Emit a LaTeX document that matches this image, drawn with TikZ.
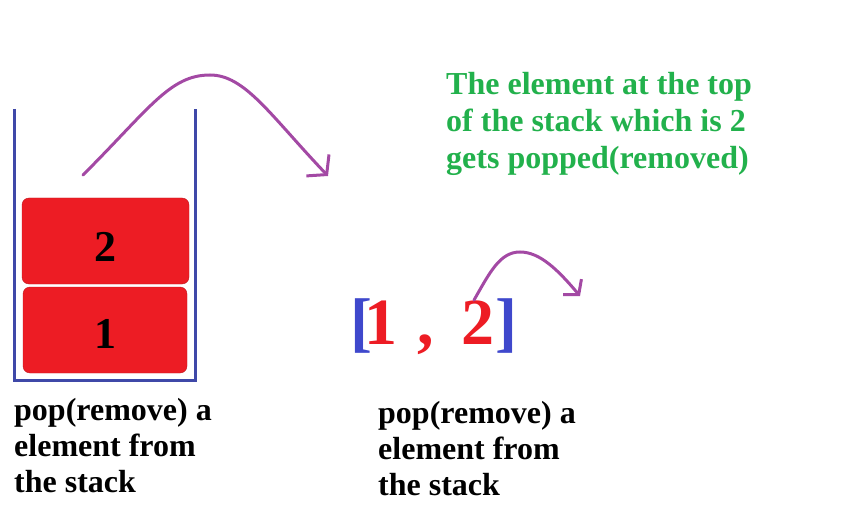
\documentclass[tikz,border=0pt]{standalone}
\usepackage{fontspec}
\setmainfont{Liberation Serif}
\usepackage{xcolor}
\usetikzlibrary{arrows.meta, positioning}
\definecolor{boxcolor}{RGB}{237,28,36}
\definecolor{stackcolor}{RGB}{63,72,168}
\definecolor{bracketcolor}{RGB}{63,72,204}
\definecolor{arrowcolor}{RGB}{163,73,164}
\definecolor{notecolor}{RGB}{34,177,76}

\begin{document}
\begin{tikzpicture}[
    x=1pt, y=-1pt,
    elem/.style={draw=boxcolor!80!black, fill=boxcolor, rounded corners=7pt, minimum width=#1, minimum height=86pt, inner sep=0pt, text depth=0pt, font=\fontsize{44}{44}\selectfont\bfseries},
    popline/.style={draw=arrowcolor, line width=3pt, line cap=round, -{Straight Barb[length=#1, width=2.4*#1, line width=3pt]}},
    caption/.style={anchor=base west, inner sep=0pt, align=left, font=\fontsize{32}{36}\selectfont\bfseries},
    arr/.style={anchor=base west, inner sep=0pt, font=\fontsize{66}{66}\selectfont\bfseries}
]
    \useasboundingbox (0,0) rectangle (843,505);

    % Stack container
    \draw[stackcolor, line width=3pt] (14,109) |- (195,380) -- (195,109);

    % Stack elements
    \node[elem=167pt, text height=41pt] (two) at (105.5,241) {2};
    \node[elem=164pt, text height=36pt] (one) at (105,330) {1};

    % Pop arrow out of the stack
    \coordinate (popstart) at (83,175);
    \coordinate (popend) at (328,176);
    \draw[popline=13pt] (popstart) .. controls (150,108) and (170,75) .. (210,75)
        .. controls (245,75) and (270,115) .. (popend);

    % Note (base = last line)
    \node[caption, text=notecolor, font=\fontsize{32}{37}\selectfont\bfseries] (note) at (446,169) {The element at the top\\of the stack which is 2\\gets popped(removed)};

    % Array view
    \node[arr, text=bracketcolor] (lbr) at (350,344) {[};
    \node[arr, text=boxcolor] (a1) at (364,344) {1};
    \node[arr, text=boxcolor] (comma) at (417,344) {,};
    \node[arr, text=boxcolor] (a2) at (461,344) {2};
    \node[arr, text=bracketcolor] (rbr) at (495,344) {]};

    % Pop arrow out of the array
    \coordinate (arrend) at (580,296);
    \draw[popline=10pt] (a2.north west) ++(13,0) coordinate (arrstart)
        .. controls (490,272) and (500,252) .. (520,252)
        .. controls (540,252) and (558,270) .. (arrend);

    % Captions
    \node[caption] (leftcap) at (14,492) {pop(remove) a\\element from\\the stack};
    \node[caption] (rightcap) at (378,495) {pop(remove) a\\element from\\the stack};
\end{tikzpicture}
\end{document}
